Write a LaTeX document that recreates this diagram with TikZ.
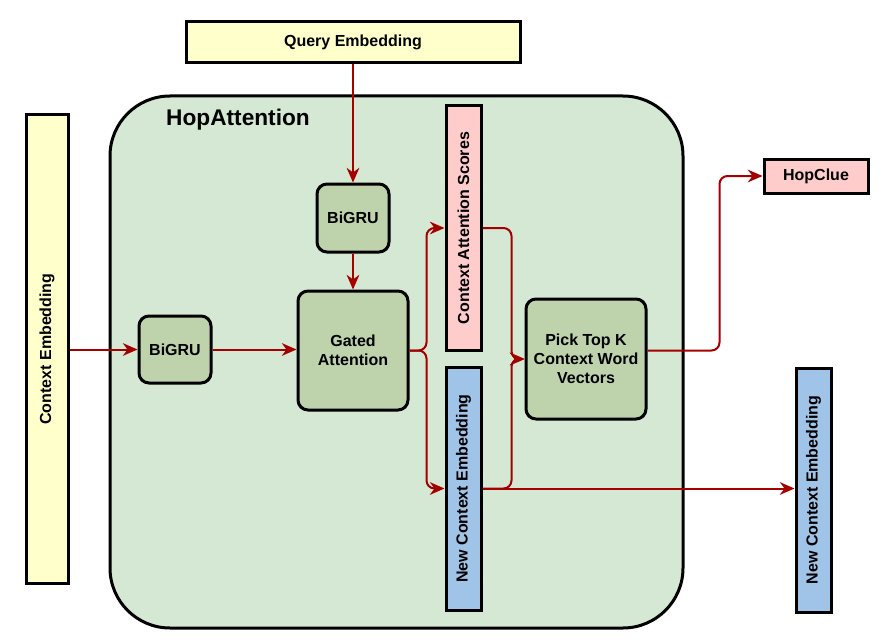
\documentclass[tikz,border=0pt]{standalone}
\usepackage{fontspec}
\setmainfont{Liberation Sans}
\usepackage{graphicx}
\usetikzlibrary{arrows.meta}

\definecolor{inputyellow}{HTML}{FFFFCC}
\definecolor{hopgreen}{HTML}{D5E8D4}
\definecolor{unitgreen}{HTML}{BED3AC}
\definecolor{scorepink}{HTML}{FFCCCC}
\definecolor{embedblue}{HTML}{A0C4E8}
\definecolor{linkred}{HTML}{A50000}

\tikzset{
	box/.style={draw, line width=2.25pt, inner sep=0pt, align=center,
		font=\bfseries\fontsize{12}{14.25}\selectfont},
	unit/.style={box, fill=unitgreen, rounded corners=7.5pt},
	link/.style={draw=linkred, line width=1.5pt, rounded corners=6pt,
		-{Stealth[length=11pt,width=9.5pt,inset=3.5pt]}}
}

\begin{document}
\begin{tikzpicture}[x=0.75pt,y=-0.75pt]
				\useasboundingbox (0,0) rectangle (889,642);
				
				\node [draw,
				line width=2.25pt,
				fill=hopgreen,
				rounded corners=45pt,
				minimum width=429.75pt,
				minimum height=399pt] (hop) at (396.5,362){};
				
				\node [font=\bfseries\fontsize{17}{20}\selectfont] (hoplabel) at (238,120) {HopAttention};
				
				\node [box,
				fill=inputyellow,
				minimum width=250.5pt,
				minimum height=30.75pt] (query) at (353,42.5){Query Embedding};
				
				\node [box,
				fill=inputyellow,
				minimum width=31.5pt,
				minimum height=351pt] (ctx) at (47,349){\rotatebox{90}{Context Embedding}};
				
				\node [unit,
				minimum width=54pt,
				minimum height=51pt] (bigruq) at (353,218){BiGRU};
				
				\node [unit,
				minimum width=54pt,
				minimum height=50.25pt] (bigruc) at (175,349.5){BiGRU};
				
				\node [unit,
				minimum width=82.5pt,
				minimum height=89.25pt] (gated) at (353,350.5){Gated\\Attention};
				
				\node [box,
				fill=scorepink,
				minimum width=26.25pt,
				minimum height=183pt] (scores) at (463.5,228){\rotatebox{90}{Context Attention Scores}};
				
				\node [box,
				fill=embedblue,
				minimum width=26.25pt,
				minimum height=182.25pt] (newctx) at (463.5,488.5){\rotatebox{90}{New Context Embedding}};
				
				\node [unit,
				minimum width=90pt,
				minimum height=90pt] (pick) at (586,359){Pick Top K\\Context Word\\Vectors};
				
				\node [box,
				fill=scorepink,
				minimum width=78pt,
				minimum height=25.5pt] (clue) at (816,176){HopClue};
				
				\node [box,
				fill=embedblue,
				minimum width=26.25pt,
				minimum height=183pt] (newctxout) at (813.5,490){\rotatebox{90}{New Context Embedding}};
				
				% connectors
				\draw [link] (query) -- (bigruq);
				\draw [link] (bigruq) -- (gated);
				\draw [link] (ctx.east |- bigruc) -- (bigruc.west);
				\draw [link] (bigruc.east) -- (gated.west |- bigruc);
				\draw [link] (gated.east) -- ++(17,0) |- (scores.west);
				\draw [link] (gated.east) -- ++(17,0) |- (newctx.west);
				\draw [link] (scores.east) -- ++(29,0) |- (pick.west);
				\draw [link] (newctx.east) -- ++(29,0) |- (pick.west);
				\draw [link] (newctx.east) -- (newctxout.west |- newctx.east);
				\draw [link] (pick.east |- gated.east) -- ++(72,0) |- (clue.west);
			\end{tikzpicture}
\end{document}
